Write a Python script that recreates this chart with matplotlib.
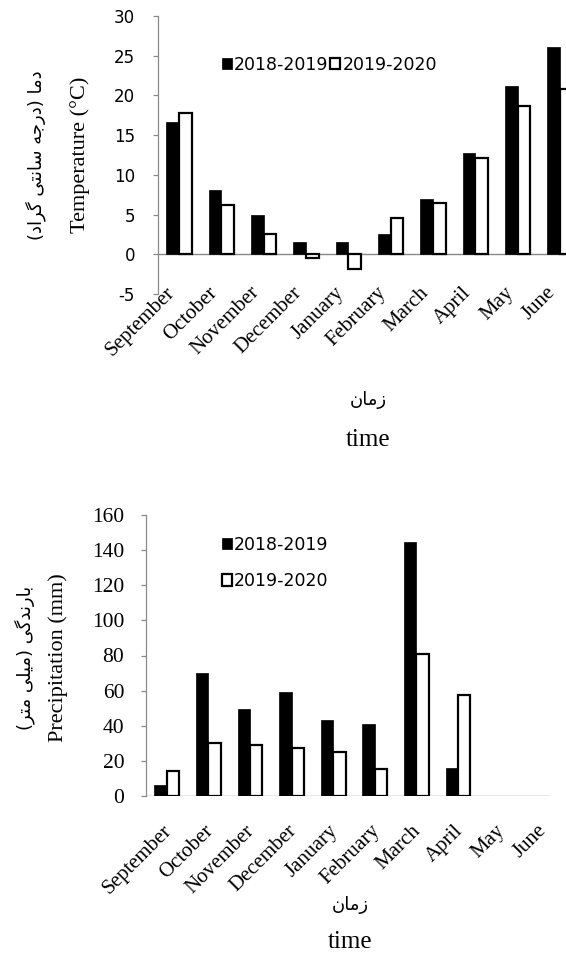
import numpy as np
import matplotlib
matplotlib.use("Agg")
import matplotlib.pyplot as plt
from matplotlib.patches import Patch
from matplotlib.transforms import ScaledTranslation

# data
months = ["September", "October", "November", "December", "January",
          "February", "March", "April", "May", "June"]
temp_2018_2019 = [16.6, 8.1, 4.9, 1.5, 1.5, 2.5, 7.0, 12.7, 21.2, 26.1]
temp_2019_2020 = [17.8, 6.2, 2.5, -0.5, -1.8, 4.6, 6.5, 12.1, 18.7, 20.8]
rain_2018_2019 = [6.5, 70, 49.5, 59, 43.5, 41, 144.5, 16, np.nan, np.nan]
rain_2019_2020 = [14.5, 30, 29, 27.5, 25, 15.5, 81, 57.5, np.nan, np.nan]
series_names = ["2018-2019", "2019-2020"]
temp_ticks = [-5, 0, 5, 10, 15, 20, 25, 30]
rain_ticks = [0, 20, 40, 60, 80, 100, 120, 140, 160]

temp_label_fa = "دما (درجه سانتی گراد)"
rain_label_fa = "بارندگی (میلی متر)"
time_label_fa = "زمان"

# matplotlib does no arabic shaping, so pick presentation forms by hand
FORMS = {
    "ا": ("\ufe8d", "\ufe8e", None, None),
    "ب": ("\ufe8f", "\ufe90", "\ufe91", "\ufe92"),
    "ت": ("\ufe95", "\ufe96", "\ufe97", "\ufe98"),
    "ج": ("\ufe9d", "\ufe9e", "\ufe9f", "\ufea0"),
    "د": ("\ufea9", "\ufeaa", None, None),
    "ر": ("\ufead", "\ufeae", None, None),
    "ز": ("\ufeaf", "\ufeb0", None, None),
    "س": ("\ufeb1", "\ufeb2", "\ufeb3", "\ufeb4"),
    "ل": ("\ufedd", "\ufede", "\ufedf", "\ufee0"),
    "م": ("\ufee1", "\ufee2", "\ufee3", "\ufee4"),
    "ن": ("\ufee5", "\ufee6", "\ufee7", "\ufee8"),
    "ه": ("\ufee9", "\ufeea", "\ufeeb", "\ufeec"),
    "ی": ("\ufbfc", "\ufbfd", "\ufbfe", "\ufbff"),
    "ي": ("\ufbfc", "\ufbfd", "\ufbfe", "\ufbff"),
    "گ": ("\ufb92", "\ufb93", "\ufb94", "\ufb95"),
}


def shape_fa(text):
    out = []
    for i, ch in enumerate(text):
        if ch not in FORMS:
            out.append(ch)
            continue
        prev = text[i - 1] if i > 0 else ""
        nxt = text[i + 1] if i + 1 < len(text) else ""
        join_prev = prev in FORMS and FORMS[prev][2] is not None
        join_next = FORMS[ch][2] is not None and nxt in FORMS
        iso, fin, ini, med = FORMS[ch]
        if join_prev and join_next:
            out.append(med)
        elif join_prev:
            out.append(fin)
        elif join_next:
            out.append(ini)
        else:
            out.append(iso)
    mirror = {"(": ")", ")": "("}
    return "".join(mirror.get(c, c) for c in reversed(out))


W, H = 566, 959
GRAY = "#898989"
SERIF = ["Liberation Serif", "DejaVu Serif"]
SANS = ["DejaVu Sans"]
plt.rcParams["axes.unicode_minus"] = False

fig = plt.figure(figsize=(W / 100, H / 100), dpi=100)
x = np.arange(len(months))
bw = 0.3


def style_axis(ax, ticks, tick_font, tick_size, ypad, xpad, xshift_px):
    for s in ["top", "right", "bottom"]:
        ax.spines[s].set_visible(False)
    ax.spines["left"].set_color(GRAY)
    ax.spines["left"].set_linewidth(0.9)
    ax.set_yticks(ticks)
    ax.set_yticklabels([str(t) for t in ticks], family=tick_font, fontsize=tick_size)
    ax.tick_params(axis="y", direction="out", length=3.6, color=GRAY,
                   width=0.9, pad=ypad)
    ax.tick_params(axis="x", length=0, pad=xpad)
    ax.set_xticks(x)
    ax.set_xticklabels(months, rotation=45, ha="right", va="center",
                       rotation_mode="anchor", family=SERIF, fontsize=15)
    shift = ScaledTranslation(xshift_px / 100, 0, fig.dpi_scale_trans)
    for t in ax.get_xticklabels():
        t.set_transform(t.get_transform() + shift)


def draw_bars(ax, a, b):
    ax.bar(x - bw / 2, a, bw, color="black", edgecolor="black", linewidth=0.5, zorder=3)
    ax.bar(x + bw / 2, b, bw, color="white", edgecolor="black", linewidth=1.6, zorder=3)


# ---- temperature ----
ax1 = fig.add_axes([158 / W, 1 - 294 / H, 423 / W, 278 / H])
draw_bars(ax1, temp_2018_2019, temp_2019_2020)
ax1.axhline(0, color=GRAY, linewidth=1.0, zorder=2)
ax1.set_xlim(-0.5, 9.5)
ax1.set_ylim(-5, 30)
style_axis(ax1, temp_ticks, SANS, 12, 13, -3, -7)

fig.text(80 / W, 1 - 155 / H, "Temperature (\u00b0C)", rotation=90, ha="center",
         va="center", family=SERIF, fontsize=16)
fig.text(36 / W, 1 - 155 / H, shape_fa(temp_label_fa), rotation=90, ha="center",
         va="center", family=SANS, fontsize=13)
fig.text(368 / W, 1 - 400 / H, shape_fa(time_label_fa), ha="center", va="center",
         family=SANS, fontsize=13)
fig.text(368 / W, 1 - 440 / H, "time", ha="center", va="center",
         family=SERIF, fontsize=18)

handles = [Patch(facecolor="black", edgecolor="black", linewidth=0.5),
           Patch(facecolor="white", edgecolor="black", linewidth=1.6)]
fig.legend(handles, series_names, loc="center left",
           bbox_to_anchor=(222 / W, 1 - 65 / H), ncol=2, frameon=False,
           handlelength=0.55, handleheight=0.6, handletextpad=0.15,
           columnspacing=0.1, borderpad=0, borderaxespad=0,
           prop={"family": SANS, "size": 12.5})

# ---- precipitation ----
ax2 = fig.add_axes([146 / W, 1 - 796 / H, 9.7 * 41.6 / W, 281 / H])
draw_bars(ax2, rain_2018_2019, rain_2019_2020)
ax2.axhline(0, color=GRAY, linewidth=1.0, zorder=2)
ax2.set_xlim(-0.5, 9.2)
ax2.set_ylim(0, 160)
style_axis(ax2, rain_ticks, SERIF, 15.5, 12, 23, 2)

fig.text(58 / W, 1 - 658 / H, "Precipitation (mm)", rotation=90, ha="center",
         va="center", family=SERIF, fontsize=16)
fig.text(25 / W, 1 - 658 / H, shape_fa(rain_label_fa), rotation=90, ha="center",
         va="center", family=SANS, fontsize=13)
fig.text(350 / W, 1 - 905 / H, shape_fa(time_label_fa), ha="center", va="center",
         family=SANS, fontsize=13)
fig.text(350 / W, 1 - 942 / H, "time", ha="center", va="center",
         family=SERIF, fontsize=18)

fig.legend(handles, series_names, loc="center left",
           bbox_to_anchor=(222 / W, 1 - 563 / H), ncol=1, frameon=False,
           handlelength=0.55, handleheight=0.6, handletextpad=0.15,
           labelspacing=1.05, borderpad=0, borderaxespad=0,
           prop={"family": SANS, "size": 12.5})

fig.savefig("out.png", dpi=100)
